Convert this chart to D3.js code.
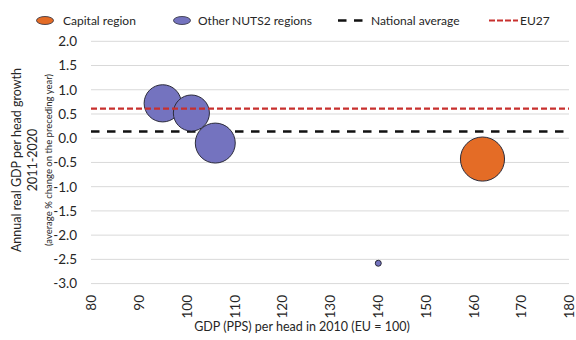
<!DOCTYPE html>
<html>
<head>
<meta charset="utf-8">
<script src="https://cdn.jsdelivr.net/npm/d3@7/dist/d3.min.js"></script>
<style>
  html, body { margin: 0; padding: 0; background: #fff; }
  svg { display: block; font-family: Lato, "Noto Sans", sans-serif; }
</style>
</head>
<body>
<svg id="chart" width="576" height="340"></svg>
<script>
// GDP per head in 2010 (PPS, EU = 100) vs. real GDP per head growth 2011-2020
const gdpPps2010   = [95.0, 101.0, 106.0, 161.9, 140.1];
const growthRate   = [0.72, 0.52, -0.10, -0.43, -2.58];
const population   = [1.35, 1.27, 1.56, 1.90, 0.035];
const regionType   = ["Other NUTS2 regions", "Other NUTS2 regions", "Other NUTS2 regions",
                      "Capital region", "Other NUTS2 regions"];

const nationalAverage = 0.14;
const eu27Average     = 0.61;

const xTicks = [80, 90, 100, 110, 120, 130, 140, 150, 160, 170, 180];
const yTicks = [2.0, 1.5, 1.0, 0.5, 0.0, -0.5, -1.0, -1.5, -2.0, -2.5, -3.0];

const legendItems = ["Capital region", "Other NUTS2 regions", "National average", "EU27"];

const colors = {
  "Capital region": "#e46c26",
  "Other NUTS2 regions": "#7473bf"
};

const svg = d3.select("#chart");

const plot = { left: 91, right: 569, top: 41.3, bottom: 283.6 };

const x = d3.scaleLinear().domain([80, 180]).range([plot.left, plot.right]);
const y = d3.scaleLinear().domain([-3, 2]).range([plot.bottom, plot.top]);
const r = d3.scaleSqrt().domain([0, 1]).range([0, 16]);

// horizontal gridlines
svg.append("g")
  .selectAll("line")
  .data(yTicks)
  .join("line")
  .attr("x1", plot.left).attr("x2", plot.right)
  .attr("y1", d => y(d)).attr("y2", d => y(d))
  .attr("stroke", "#d9d9d9").attr("stroke-width", 1);

// y axis tick labels
const yAxis = d3.axisLeft(y).tickValues(yTicks).tickFormat(d3.format(".1f")).tickSize(0).tickPadding(0);
const gy = svg.append("g").attr("transform", "translate(77,0)").call(yAxis);
gy.select(".domain").remove();
gy.selectAll("text")
  .attr("font-family", "Lato, sans-serif")
  .attr("font-size", 13.5)
  .attr("fill", "#262626")
  .text(d => d3.format(".1f")(d).replace("−", "-"));

// x axis tick labels, rotated
const xAxis = d3.axisBottom(x).tickValues(xTicks).tickFormat(d3.format("d")).tickSize(0).tickPadding(0);
const gx = svg.append("g").attr("transform", "translate(0,295)").call(xAxis);
gx.select(".domain").remove();
gx.selectAll("text")
  .attr("font-family", "Lato, sans-serif")
  .attr("font-size", 13.5)
  .attr("fill", "#262626")
  .attr("text-anchor", "end")
  .attr("dy", "0.35em")
  .attr("transform", "rotate(-90)")
  .attr("x", 0).attr("y", 0);

// axis titles
svg.append("text")
  .attr("x", 302).attr("y", 331)
  .attr("text-anchor", "middle")
  .attr("font-size", 12.5)
  .attr("fill", "#262626")
  .text("GDP (PPS) per head in 2010 (EU = 100)");

const yTitle = svg.append("g").attr("transform", "translate(0,160) rotate(-90)");
yTitle.append("text")
  .attr("x", 0).attr("y", 21)
  .attr("text-anchor", "middle")
  .attr("font-size", 12.5)
  .attr("fill", "#262626")
  .text("Annual real GDP per head growth");
yTitle.append("text")
  .attr("x", 0).attr("y", 37)
  .attr("text-anchor", "middle")
  .attr("font-size", 12.5)
  .attr("fill", "#262626")
  .text("2011-2020");
yTitle.append("text")
  .attr("x", 0).attr("y", 52)
  .attr("text-anchor", "middle")
  .attr("font-size", 9.5)
  .attr("fill", "#262626")
  .text("(average % change on the preceding year)");

// national average sits beneath the bubbles
svg.append("line")
  .attr("x1", plot.left).attr("x2", plot.right)
  .attr("y1", y(nationalAverage)).attr("y2", y(nationalAverage))
  .attr("stroke", "#111").attr("stroke-width", 2.5)
  .attr("stroke-dasharray", "8.5,7.5");

// bubbles, largest first so small ones stay visible
const points = gdpPps2010.map((v, i) => ({
  gdp: v, growth: growthRate[i], pop: population[i], type: regionType[i]
})).sort((a, b) => b.pop - a.pop);

svg.append("g")
  .selectAll("circle")
  .data(points)
  .join("circle")
  .attr("cx", d => x(d.gdp))
  .attr("cy", d => y(d.growth))
  .attr("r", d => r(d.pop))
  .attr("fill", d => colors[d.type])
  .attr("stroke", "#2b2b3a")
  .attr("stroke-width", 1);

// EU27 average drawn over the bubbles
svg.append("line")
  .attr("x1", plot.left).attr("x2", plot.right)
  .attr("y1", y(eu27Average)).attr("y2", y(eu27Average))
  .attr("stroke", "#c8302e").attr("stroke-width", 2.2)
  .attr("stroke-dasharray", "6,3");

// legend
const legend = svg.append("g").attr("font-size", 12).attr("fill", "#262626");
const legendX = [45, 182, 338, 489];
const legendTextX = [63, 198, 371, 520];
const ly = 20.5;

legend.append("ellipse").attr("cx", legendX[0]).attr("cy", ly).attr("rx", 8.5).attr("ry", 4)
  .attr("fill", colors["Capital region"]).attr("stroke", "#2b2b3a").attr("stroke-width", 0.8);
legend.append("ellipse").attr("cx", legendX[1]).attr("cy", ly).attr("rx", 8.5).attr("ry", 4)
  .attr("fill", colors["Other NUTS2 regions"]).attr("stroke", "#2b2b3a").attr("stroke-width", 0.8);
legend.append("line").attr("x1", legendX[2]).attr("x2", legendX[2] + 25).attr("y1", ly).attr("y2", ly)
  .attr("stroke", "#111").attr("stroke-width", 2.5).attr("stroke-dasharray", "8.5,7.5");
legend.append("line").attr("x1", legendX[3]).attr("x2", legendX[3] + 29).attr("y1", ly).attr("y2", ly)
  .attr("stroke", "#c8302e").attr("stroke-width", 2).attr("stroke-dasharray", "6,2");

legend.selectAll("text.lbl")
  .data(legendItems)
  .join("text")
  .attr("class", "lbl")
  .attr("x", (d, i) => legendTextX[i])
  .attr("y", ly)
  .attr("dy", "0.35em")
  .text(d => d);
</script>
</body>
</html>
